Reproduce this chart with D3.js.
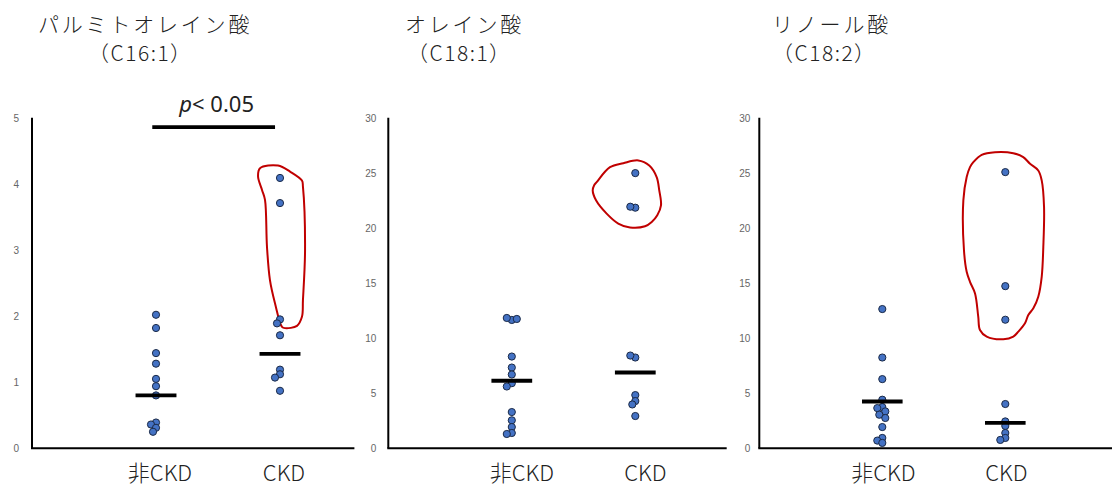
<!DOCTYPE html>
<html><head><meta charset="utf-8">
<script src="https://cdn.jsdelivr.net/npm/d3@7"></script>
<style>
html,body{margin:0;padding:0;background:#fff;}
svg{display:block;}
</style></head>
<body>
<svg id="chart" width="1112" height="486"></svg>
<script>
// ---------------- data ----------------
const categories = ["非CKD", "CKD"];
const titleLine1 = ["パルミトオレイン酸", "オレイン酸", "リノール酸"];
const titleLine2 = ["（C16:1）", "（C18:1）", "（C18:2）"];

// C16:1
const c161NonCKD = [2.02, 1.82, 1.44, 1.28, 1.05, 0.94, 0.80, 0.39, 0.36, 0.31, 0.25];
const c161CKD    = [4.09, 3.71, 1.95, 1.89, 1.71, 1.19, 1.12, 1.07, 0.87];
const c161Bars   = [0.80, 1.43];
// C18:1
const c181NonCKD = [11.65, 11.83, 11.74, 8.33, 7.33, 6.70, 5.91, 5.61, 3.29, 2.54, 1.93, 1.39, 1.30];
const c181CKD    = [24.98, 21.84, 21.93, 8.24, 8.42, 4.83, 4.29, 3.98, 2.93];
const c181Bars   = [6.13, 6.88];
// C18:2
const c182NonCKD = [12.64, 8.24, 6.28, 4.41, 3.74, 3.65, 3.35, 3.05, 2.75, 1.93, 0.94, 0.70, 0.49];
const c182CKD    = [25.07, 14.72, 11.67, 4.02, 2.44, 2.03, 1.39, 0.94, 0.76];
const c182Bars   = [4.25, 2.30];

const yTicksC161 = [0, 1, 2, 3, 4, 5];
const yTicksC18  = [0, 5, 10, 15, 20, 25, 30];
const yMaxes = [5, 30, 30];

// significance annotation (panel 1): category span and value level
const sigFrom = 0.97, sigTo = 1.96, sigValue = 4.86, sigText = "< 0.05";

// hand-drawn red outlines, in data units [category position, value]
const outlineC161 = [[1.839,4.238],[1.984,4.277],[2.081,4.186],[2.177,4.050],[2.185,3.959],[2.202,3.000],[2.185,2.242],[2.177,1.989],[2.137,1.853],[2.040,1.818],[2.016,1.838],[1.960,2.192],[1.919,2.545],[1.895,3.050],[1.879,3.758],[1.855,3.909],[1.823,4.111]];
const outlineC181 = [[1.687,24.16],[1.795,25.52],[1.903,25.88],[2.024,26.13],[2.113,25.67],[2.173,24.62],[2.194,23.41],[2.208,22.05],[2.178,21.15],[2.133,20.54],[2.079,20.15],[1.957,20.04],[1.862,20.40],[1.768,21.30],[1.682,22.51],[1.655,23.41],[1.666,23.86]];
const outlineC182 = [[1.740,25.97],[1.808,26.64],[1.916,26.88],[2.065,26.79],[2.146,26.43],[2.201,25.83],[2.268,25.22],[2.296,24.32],[2.315,21.90],[2.309,18.28],[2.296,15.57],[2.268,13.76],[2.228,12.71],[2.187,12.10],[2.160,11.35],[2.106,10.59],[2.065,10.14],[1.984,9.90],[1.849,10.14],[1.794,10.74],[1.780,11.95],[1.754,14.06],[1.713,15.11],[1.686,16.02],[1.664,17.98],[1.659,22.51],[1.686,24.62],[1.713,25.52]];

// ---------------- layout ----------------
const panels = [
  {groups:[c161NonCKD, c161CKD], bars:c161Bars, ticks:yTicksC161, yMax:yMaxes[0], outline:outlineC161,
   axisX:32, unit:124, xEnd:2.6, titleX:[38, 88], labelShift:4, tickPad:13},
  {groups:[c181NonCKD, c181CKD], bars:c181Bars, ticks:yTicksC18, yMax:yMaxes[1], outline:outlineC181,
   axisX:388.3, unit:123.5, xEnd:2.74, titleX:[405, 407], labelShift:10, tickPad:12},
  {groups:[c182NonCKD, c182CKD], bars:c182Bars, ticks:yTicksC18, yMax:yMaxes[2], outline:outlineC182,
   axisX:759.3, unit:123, xEnd:2.87, titleX:[772, 772], labelShift:1, tickPad:9}
];
const yTop = 117.8, yBottom = 448.3;
const r = 3.6;

const svg = d3.select("#chart");
const jp = "'Noto Sans CJK JP', 'Noto Sans', sans-serif";

panels.forEach((p, pi) => {
  const g = svg.append("g");
  const x = d3.scaleLinear().domain([0, p.xEnd]).range([p.axisX, p.axisX + p.xEnd * p.unit]);
  const y = d3.scaleLinear().domain([0, p.yMax]).range([yBottom, yTop]);

  // titles
  g.append("text").attr("x", p.titleX[0]).attr("y", 32)
    .attr("font-family", jp).attr("font-size", 21).attr("font-weight", 300).attr("letter-spacing", 2.8)
    .attr("fill", "#222").text(titleLine1[pi]);
  g.append("text").attr("x", p.titleX[1]).attr("y", 61)
    .attr("font-family", jp).attr("font-size", 21).attr("font-weight", 300).attr("letter-spacing", 1.5)
    .attr("fill", "#222").text(titleLine2[pi]);

  // y axis ticks (labels only)
  const ax = d3.axisLeft(y).tickValues(p.ticks).tickSize(0).tickPadding(p.tickPad).tickFormat(d3.format("d"));
  const axg = g.append("g").attr("transform", `translate(${p.axisX},0)`).call(ax);
  axg.select(".domain").remove();
  axg.selectAll("text").attr("font-family", "'Liberation Sans', 'DejaVu Sans', sans-serif")
    .attr("font-size", 10).attr("fill", "#666");

  // axis lines
  g.append("line").attr("x1", x(0)).attr("x2", x(0)).attr("y1", y(p.yMax)).attr("y2", y(0))
    .attr("stroke", "#000").attr("stroke-width", 2);
  g.append("line").attr("x1", x(0) - 1).attr("x2", x(p.xEnd)).attr("y1", y(0)).attr("y2", y(0))
    .attr("stroke", "#000").attr("stroke-width", 2);

  // category labels
  g.selectAll("text.cat").data(categories).join("text").attr("class", "cat")
    .attr("x", (d, i) => x(i + 1) + p.labelShift).attr("y", 481)
    .attr("text-anchor", "middle").attr("font-family", jp).attr("font-size", 22).attr("font-weight", 300)
    .attr("fill", "#222").text(d => d);

  // red outline
  const line = d3.line().x(d => x(d[0])).y(d => y(d[1])).curve(d3.curveCatmullRomClosed.alpha(0.5));
  g.append("path").attr("d", line(p.outline)).attr("fill", "none")
    .attr("stroke", "#C00000").attr("stroke-width", 2);

  // points with a simple dodge
  p.groups.forEach((vals, ci) => {
    const cx = x(ci + 1);
    const placed = [];
    const lanes = [0, -3, 3, -5, 5, -7, 7];
    const pts = vals.map(v => ({v, py: y(v)}));
    pts.forEach(pt => {
      let off = 0;
      for (const l of lanes) {
        const ok = placed.every(q => Math.hypot(q.dx - l, q.py - pt.py) >= 4.5);
        if (ok) { off = l; break; }
      }
      pt.dx = off;
      placed.push(pt);
    });
    g.selectAll(null).data(pts).join("circle")
      .attr("cx", d => cx + d.dx).attr("cy", d => d.py).attr("r", r)
      .attr("fill", "#4472C4").attr("stroke", "#1B2A47").attr("stroke-width", 1);

    // summary bar
    g.append("line").attr("x1", cx - 0.165 * p.unit).attr("x2", cx + 0.165 * p.unit)
      .attr("y1", y(p.bars[ci])).attr("y2", y(p.bars[ci]))
      .attr("stroke", "#000").attr("stroke-width", 3.8);
  });

  // significance
  if (pi === 0) {
    g.append("line").attr("x1", x(sigFrom)).attr("x2", x(sigTo))
      .attr("y1", y(sigValue)).attr("y2", y(sigValue))
      .attr("stroke", "#000").attr("stroke-width", 3.8);
    const t = g.append("text").attr("x", (x(sigFrom) + x(sigTo)) / 2 + 3).attr("y", y(sigValue) - 15)
      .attr("text-anchor", "middle").attr("font-family", "'Noto Sans', sans-serif")
      .attr("font-size", 22).attr("fill", "#222");
    t.append("tspan").attr("font-style", "italic").text("p");
    t.append("tspan").text(sigText);
  }
});
</script>
</body></html>
